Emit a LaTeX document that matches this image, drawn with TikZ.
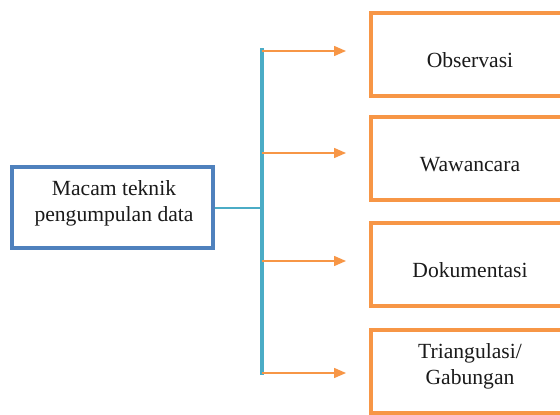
\documentclass[tikz,border=0pt]{standalone}
\usepackage{fontspec}
\setmainfont{Liberation Serif}
\usetikzlibrary{arrows.meta}
\definecolor{boxblue}{HTML}{4F81BD}
\definecolor{barteal}{HTML}{4BACC6}
\definecolor{boxorange}{HTML}{F79646}
\definecolor{inkdark}{HTML}{1A1A1A}
\tikzset{
  srcframe/.style={draw=boxblue, line width=4pt, fill=white, minimum width=201pt, minimum height=81pt, inner sep=0pt},
  itemframe/.style={draw=boxorange, line width=4pt, fill=white, minimum width=198pt, minimum height=83pt, inner sep=0pt},
  caption/.style={text=inkdark, align=center, inner sep=0pt, font=\fontsize{21.6}{26}\selectfont},
  trunk/.style={draw=barteal, line width=3.5pt},
  feeder/.style={draw=barteal, line width=1.2pt},
  branch/.style={draw=boxorange, line width=1.5pt, -{Triangle[length=12pt,width=10pt]}}
}
\begin{document}
\begin{tikzpicture}[x=1pt,y=-1pt]
\useasboundingbox (0,0) rectangle (560,415);
\clip (0,0) rectangle (560,415);
\fill[white] (0,0) rectangle (560,415);

% source box
\node[srcframe] (src) at (112.5,207.5) {};
\node[caption] (srctext) at (114,203) {Macam teknik\\pengumpulan data};

% target boxes (running past the right edge)
\node[itemframe] (obs) at (470,54.5) {};
\node[itemframe] (waw) at (470,158.5) {};
\node[itemframe] (dok) at (470,264) {};
\node[itemframe] (tri) at (470,371) {};
\node[caption] (obstext) at (470,60) {Observasi};
\node[caption] (wawtext) at (470,165) {Wawancara};
\node[caption] (doktext) at (470,270.5) {Dokumentasi};
\node[caption] (tritext) at (470,366) {Triangulasi/\\Gabungan};

% vertical trunk and its junction points
\coordinate (t1) at (262,51);
\coordinate (t2) at (262,153);
\coordinate (t3) at (262,261);
\coordinate (t4) at (262,373);
\coordinate (ttop) at (262,48);
\coordinate (tbot) at (262,374.5);
\coordinate (tmid) at (262,208);

% arrow tips
\coordinate (e1) at (346,51);
\coordinate (e2) at (346,153);
\coordinate (e3) at (346,261);
\coordinate (e4) at (346,373);

\draw[feeder] (src.east |- tmid) -- (tmid);
\draw[trunk] (ttop) -- (tbot);
\draw[branch] (t1) -- (e1);
\draw[branch] (t2) -- (e2);
\draw[branch] (t3) -- (e3);
\draw[branch] (t4) -- (e4);
\end{tikzpicture}
\end{document}
